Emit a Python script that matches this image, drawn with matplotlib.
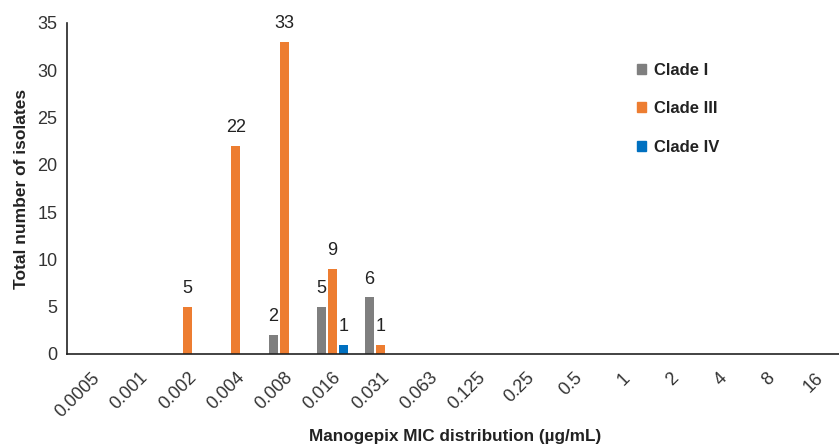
import matplotlib
matplotlib.use("Agg")
import matplotlib.pyplot as plt
import numpy as np
from matplotlib.patches import Patch

plt.rcParams['font.family'] = ['Liberation Sans', 'DejaVu Sans']

categories = ["0.0005", "0.001", "0.002", "0.004", "0.008", "0.016", "0.031", "0.063",
              "0.125", "0.25", "0.5", "1", "2", "4", "8", "16"]
clade_i = [0, 0, 0, 0, 2, 5, 6, 0, 0, 0, 0, 0, 0, 0, 0, 0]
clade_iii = [0, 0, 5, 22, 33, 9, 1, 0, 0, 0, 0, 0, 0, 0, 0, 0]
clade_iv = [0, 0, 0, 0, 0, 1, 0, 0, 0, 0, 0, 0, 0, 0, 0, 0]
series = [("Clade I", clade_i, "#7f7f7f"),
          ("Clade III", clade_iii, "#ED7D31"),
          ("Clade IV", clade_iv, "#0070C0")]

fig = plt.figure(figsize=(8.39, 4.44), dpi=100)
ax = fig.add_axes([67/839, 1-354/444, 1-67/839, (354-23)/444])

x = np.arange(len(categories))
step = 0.227
width = 0.185
for i, (name, vals, col) in enumerate(series):
    pos = x + (i - 1) * step
    bars = ax.bar(pos, vals, width=width, color=col, label=name)
    for xp, v in zip(pos, vals):
        if v > 0:
            ax.annotate(str(v), (xp, v), xytext=(0, 7), textcoords="offset points",
                        ha="center", va="bottom", fontsize=13, color="#222222",
                        annotation_clip=False)

ax.set_xlim(-0.5, len(categories) - 0.5)
ax.set_ylim(0, 35)
ax.set_yticks(range(0, 36, 5))
ax.set_xticks(x)
ax.set_xticklabels(categories, rotation=45, ha="right", va="top", rotation_mode="anchor")
ax.tick_params(axis="both", length=0, labelsize=13, labelcolor="#333333")
ax.tick_params(axis="y", pad=7)
ax.tick_params(axis="x", pad=11)
for s in ["top", "right"]:
    ax.spines[s].set_visible(False)
ax.spines["left"].set_color("#222222")
ax.spines["bottom"].set_color("#222222")
ax.spines["left"].set_linewidth(1.2)
ax.spines["bottom"].set_linewidth(1.2)

ax.set_ylabel("Total number of isolates", fontsize=12.5, fontweight="bold", color="#222222")
ax.yaxis.set_label_coords(-45/772, 0.5)
ax.yaxis.label.set_va("center")
fig.text(455/839, 1-436/444, "Manogepix MIC distribution (µg/mL)", ha="center", va="center",
         fontsize=12.3, fontweight="bold", color="#222222")

handles = [Patch(color=c, label=n) for n, _, c in series]
leg = fig.legend(handles=handles, loc="upper left", bbox_to_anchor=(622/839, 1-48/444),
                 frameon=False, handlelength=0.55, handleheight=0.55, handletextpad=0.45,
                 labelspacing=1.4, prop={"size": 12, "weight": "bold"})
for t in leg.get_texts():
    t.set_color("#222222")

fig.savefig("out.png", dpi=100)
